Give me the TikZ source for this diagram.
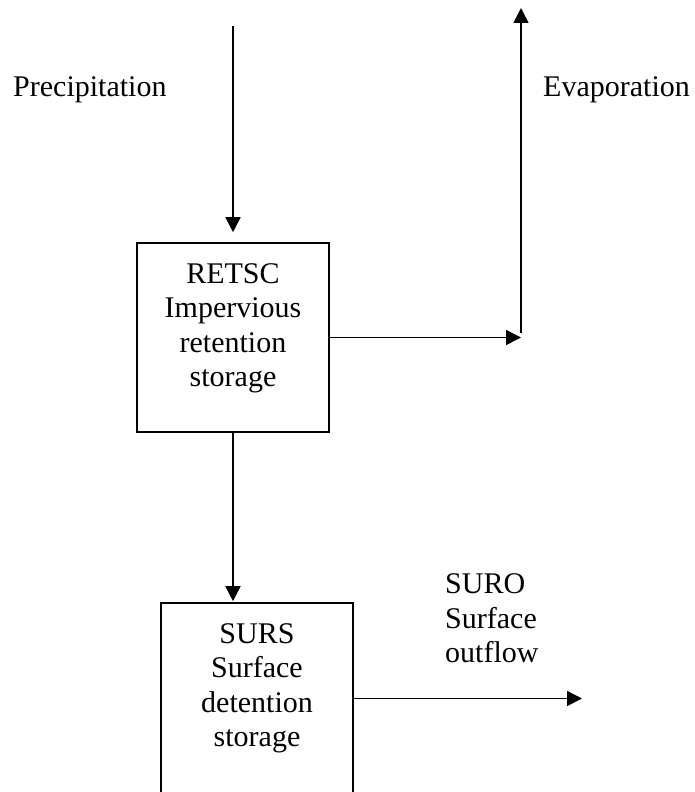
\documentclass[tikz,border=0pt]{standalone}
\usepackage{fontspec}
\setmainfont{Liberation Serif}
\usetikzlibrary{arrows.meta}
\tikzset{
  boxnode/.style={draw, line width=1.6pt, minimum width=192pt, inner sep=0pt},
  txt/.style={inner sep=0pt, font=\fontsize{30}{34.5}\selectfont},
  arr/.style={line width=1.6pt, -{Triangle[length=15pt,width=15pt]}}
}
\begin{document}
\begin{tikzpicture}[x=1pt,y=-1pt]
\useasboundingbox (0,0) rectangle (694,792);
\clip (0,0) rectangle (694,792);
% boxes
\node[boxnode, minimum height=189pt] (retsc) at (233,337.5) {};
\node[boxnode, minimum height=191pt] (surs) at (257,698.5) {};
% texts (anchor = baseline of the last line)
\node[txt, anchor=base west] (prec) at (13,96) {Precipitation};
\node[txt, anchor=base west] (evap) at (543,96) {Evaporation};
\node[txt, align=center, anchor=base] (retsct) at (233,386.5) {RETSC\\Impervious\\retention\\storage};
\node[txt, align=center, anchor=base] (surst) at (257,746.5) {SURS\\Surface\\detention\\storage};
\node[txt, align=left, anchor=base west] (suro) at (445,662.5) {SURO\\Surface\\outflow};
% helper coordinates
\coordinate (pstart) at (233,26);
\coordinate (ecorner) at (521,337.5);
\coordinate (ebottom) at (521,333);
\coordinate (etop) at (521,8);
\coordinate (send) at (582,698.5);
% connectors
\draw[arr, shorten >=10pt] (pstart) -- (retsc.north);
\draw[arr] (retsc.east) -- (ecorner);
\draw[arr] (ebottom) -- (etop);
\draw[arr, shorten >=1pt] (retsc.south) -- (retsc.south |- surs.north);
\draw[arr] (surs.east) -- (send);
\end{tikzpicture}
\end{document}
